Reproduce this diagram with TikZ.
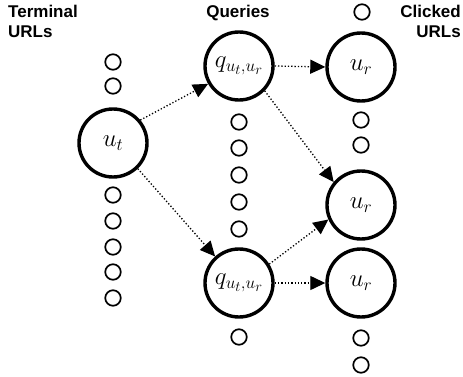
\documentclass[tikz,border=0pt]{standalone}
\usepackage{fontspec}
\setsansfont{Liberation Sans}
\DeclareMathSizes{25}{25}{19}{15}
\usetikzlibrary{arrows.meta}
\begin{document}
\begin{tikzpicture}[x=1pt,y=-1pt,
  big/.style={circle,draw,line width=3.4pt,minimum size=68pt,inner sep=0pt,font=\fontsize{25}{30}\selectfont},
  small/.style={circle,draw,line width=1.7pt,minimum size=15.5pt,inner sep=0pt},
  lbl/.style={font=\sffamily\bfseries\fontsize{17}{20}\selectfont,inner sep=0pt},
  arr/.style={dotted,line width=1.3pt,-{Triangle[length=15pt,width=14pt]}}]
\useasboundingbox (0,0) rectangle (463,377);
% labels
\node[lbl,anchor=north west,align=left] (tl) at (8,5) {Terminal\\URLs};
\node[lbl,anchor=north] (ql) at (238,5) {Queries};
\node[lbl,anchor=north east,align=right] (cl) at (461,5) {Clicked\\URLs};
% big nodes
\node[big] (ut) at (113,143) {$u_t$};
\node[big] (q1) at (239,66) {$q_{u_t,u_r}$};
\node[big] (q2) at (239,283) {$q_{u_t,u_r}$};
\node[big] (r1) at (361,67) {$u_r$};
\node[big] (r2) at (361,205) {$u_r$};
\node[big] (r3) at (361,283) {$u_r$};
% small circles column 1
\node[small] (a1) at (113,62) {};
\node[small] (a2) at (113,86) {};
\node[small] (a3) at (113,195) {};
\node[small] (a4) at (113,221) {};
\node[small] (a5) at (113,247) {};
\node[small] (a6) at (113,272) {};
\node[small] (a7) at (113,298) {};
% column 2
\node[small] (b1) at (239,122) {};
\node[small] (b2) at (239,148) {};
\node[small] (b3) at (239,175) {};
\node[small] (b4) at (239,202) {};
\node[small] (b5) at (239,229) {};
\node[small] (b6) at (239,337) {};
% column 3
\node[small] (c1) at (362,12) {};
\node[small] (c2) at (361,120) {};
\node[small] (c3) at (361,145) {};
\node[small] (c4) at (361,338) {};
\node[small] (c5) at (361,365) {};
% arrows
\draw[arr] (ut.40) -- (q1.210);
\draw[arr] (ut.-46) -- (q2.132);
\draw[arr] (q1.east) -- (r1.west);
\draw[arr] (q1.-44) -- (r2.140);
\draw[arr] (q2.32) -- (r2.204);
\draw[arr] (q2.east) -- (r3.west);
\end{tikzpicture}
\end{document}
